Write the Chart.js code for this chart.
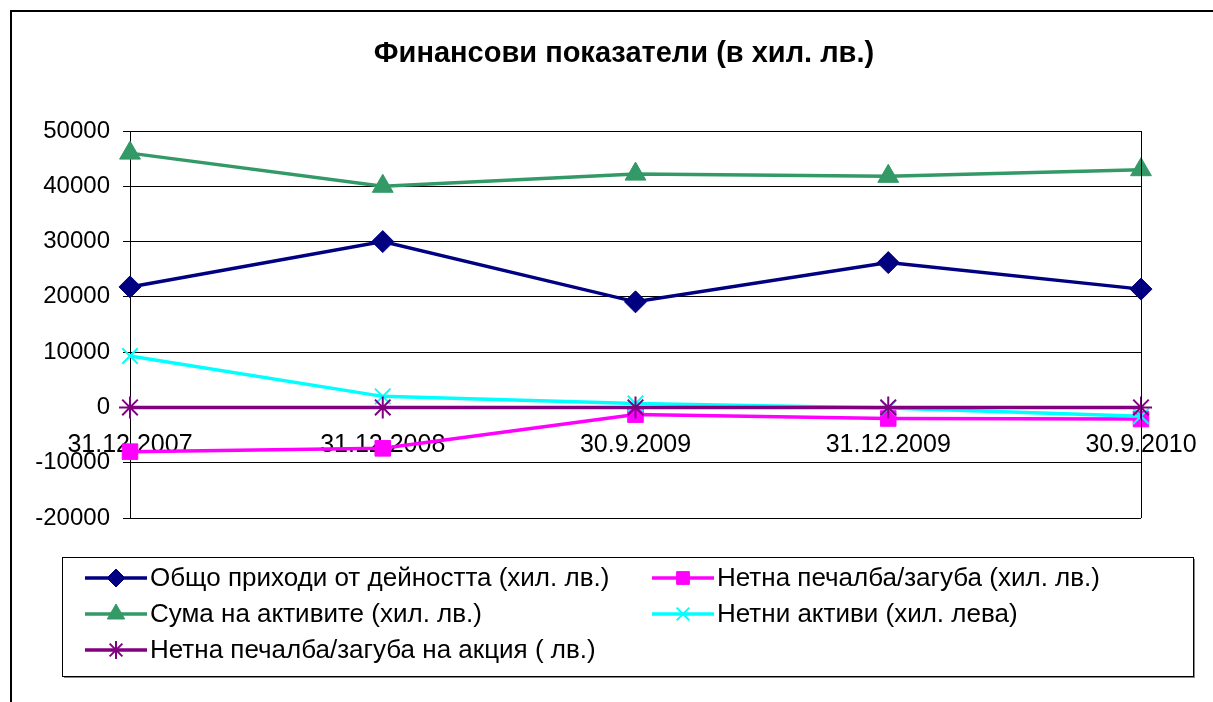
<!DOCTYPE html>
<html>
<head>
<meta charset="utf-8">
<script src="https://cdn.jsdelivr.net/npm/chart.js@4/dist/chart.umd.min.js"></script>
<style>
  html, body { margin: 0; padding: 0; background: #fff; }
  #wrap { position: relative; width: 1213px; height: 702px; }
</style>
</head>
<body>
<div id="wrap"><canvas id="chart" width="1213" height="702"></canvas></div>
<script>
// data
const dates = ["31.12.2007", "31.12.2008", "30.9.2009", "31.12.2009", "30.9.2010"];
const revenue = [21800, 30000, 19100, 26200, 21400];
const netProfit = [-8000, -7400, -1300, -2000, -2100];
const totalAssets = [46000, 40000, 42200, 41800, 43000];
const netAssets = [9300, 2000, 700, -100, -1600];
const profitPerShare = [-0.3, -0.27, -0.05, -0.08, -0.09];
const yMin = -20000;
const yMax = 50000;
const yStep = 10000;

const seriesNames = [
  "Общо приходи от дейността (хил. лв.)",
  "Нетна печалба/загуба (хил. лв.)",
  "Сума на активите (хил. лв.)",
  "Нетни активи (хил. лева)",
  "Нетна печалба/загуба на акция ( лв.)",
];
const title = "Финансови показатели (в хил. лв.)";
const FONT = "'Liberation Sans', Arial, sans-serif";

function ds(i, data, color, style, radius, bw) {
  return {
    label: seriesNames[i],
    data,
    borderColor: color,
    backgroundColor: color,
    borderWidth: 3.5,
    pointStyle: style,
    pointRadius: radius,
    pointHoverRadius: radius,
    pointBorderWidth: bw,
    pointBackgroundColor: color,
    pointBorderColor: color,
    tension: 0,
    clip: false,
    order: 5 - i, // later series drawn on top, like the original
  };
}

const datasets = [
  ds(0, revenue, "#000080", "rectRot", 11, 1),
  ds(1, netProfit, "#ff00ff", "rect", 11, 1),
  ds(2, totalAssets, "#339966", "triangle", 12, 1),
  ds(3, netAssets, "#00ffff", "crossRot", 11, 2),
  ds(4, profitPerShare, "#800080", "star", 11, 2),
];

// frame, title and legend box in the style of the original
const decor = {
  id: "decor",
  beforeDraw(chart) {
    const ctx = chart.ctx;
    ctx.save();
    ctx.fillStyle = "#fff";
    ctx.fillRect(0, 0, chart.width, chart.height);
    ctx.restore();
  },
  afterDraw(chart) {
    const ctx = chart.ctx;
    const a = chart.chartArea;
    ctx.save();
    // outer border
    ctx.strokeStyle = "#000";
    ctx.lineWidth = 2;
    ctx.beginPath();
    ctx.moveTo(11, chart.height + 5);
    ctx.lineTo(11, 11);
    ctx.lineTo(chart.width + 5, 11);
    ctx.stroke();
    // right edge of plot area
    ctx.lineWidth = 1;
    ctx.beginPath();
    ctx.moveTo(Math.round(a.right) + 0.5, a.top);
    ctx.lineTo(Math.round(a.right) + 0.5, a.bottom);
    ctx.stroke();
    // title
    ctx.fillStyle = "#000";
    ctx.font = "bold 29px " + FONT;
    ctx.textAlign = "center";
    ctx.textBaseline = "middle";
    ctx.fillText(title, 624, 54);

    // legend box
    const lx = 62, ly = 557, lw = 1131, lh = 119;
    ctx.strokeStyle = "#888";
    ctx.lineWidth = 2;
    ctx.beginPath();
    ctx.moveTo(lx + lw + 1, ly + 2);
    ctx.lineTo(lx + lw + 1, ly + lh + 1);
    ctx.lineTo(lx + 2, ly + lh + 1);
    ctx.stroke();
    ctx.strokeStyle = "#000";
    ctx.lineWidth = 1;
    ctx.strokeRect(lx + 0.5, ly + 0.5, lw, lh);

    const cols = [116, 683];
    const rows = [578, 614, 650];
    ctx.font = "26px " + FONT;
    ctx.textAlign = "left";
    chart.data.datasets.forEach((d, i) => {
      const cx = cols[i % 2];
      const cy = rows[Math.floor(i / 2)];
      ctx.strokeStyle = d.borderColor;
      ctx.lineWidth = 3.5;
      ctx.beginPath();
      ctx.moveTo(cx - 31, cy);
      ctx.lineTo(cx + 31, cy);
      ctx.stroke();
      ctx.fillStyle = d.pointBackgroundColor;
      ctx.lineWidth = d.pointBorderWidth;
      Chart.helpers.drawPoint(ctx, {
        pointStyle: d.pointStyle,
        radius: d.pointRadius - 2,
        rotation: 0,
        borderWidth: d.pointBorderWidth,
      }, cx, cy);
      ctx.fillStyle = "#000";
      ctx.fillText(d.label, cx + 34, cy + 1);
    });
    ctx.restore();
  },
};

new Chart(document.getElementById("chart"), {
  type: "line",
  data: { labels: dates, datasets },
  options: {
    responsive: false,
    animation: false,
    events: [],
    layout: { padding: { left: 0, right: 72, top: 131, bottom: 184 } },
    plugins: {
      legend: { display: false },
      title: { display: false },
      tooltip: { enabled: false },
    },
    scales: {
      x: {
        position: { y: 0 },
        offset: false,
        afterFit(scale) { scale.paddingLeft = 0; scale.paddingRight = 0; },
        grid: { display: false, drawTicks: false },
        border: { display: true, color: "#000", width: 1 },
        ticks: {
          color: "#000",
          font: { family: FONT, size: 25 },
          padding: 23,
          maxRotation: 0,
          autoSkip: false,
        },
      },
      y: {
        min: yMin,
        max: yMax,
        afterFit(scale) { scale.width = 130; },
        grid: { color: "#000", lineWidth: 1, tickLength: 7, drawTicks: true },
        border: { display: true, color: "#000", width: 1 },
        ticks: {
          stepSize: yStep,
          color: "#000",
          font: { family: FONT, size: 24 },
          padding: 13,
          callback: (v) => String(v),
        },
      },
    },
  },
  plugins: [decor],
});
</script>
</body>
</html>
